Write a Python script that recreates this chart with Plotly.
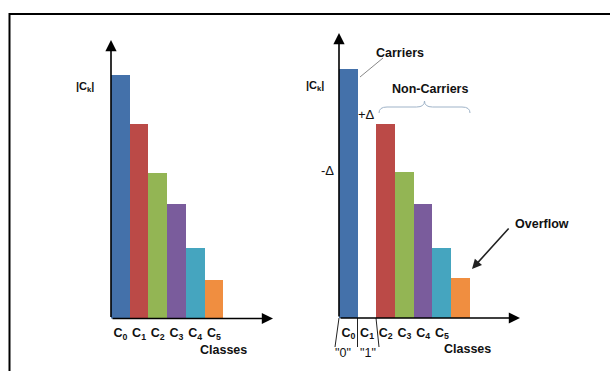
import plotly.graph_objects as go

# ---------------- data ----------------
left_classes = [0, 1, 2, 3, 4, 5]
left_values = [100, 80, 60, 47, 29, 16]
left_labels = ["C<sub>0</sub>", "C<sub>1</sub>", "C<sub>2</sub>", "C<sub>3</sub>", "C<sub>4</sub>", "C<sub>5</sub>"]
left_colors = ["#4471aa", "#bb4a47", "#93b554", "#7a5c9c", "#45a5bf", "#f08e40"]

right_classes = [0, 1, 2, 3, 4, 5, 6]
right_values = [102.5, 0, 80, 60, 47, 29, 16.5]
right_labels = ["C<sub>0</sub>", "C<sub>1</sub>", "C<sub>2</sub>", "C<sub>3</sub>", "C<sub>4</sub>", "C<sub>5</sub>"]
right_colors = ["#4471aa", "#ffffff", "#bb4a47", "#93b554", "#7a5c9c", "#45a5bf", "#f08e40"]

W, H = 610, 371
def px(x):
    return x / W
def py(y):
    return 1 - y / H

FONT = "Liberation Sans, Arial, sans-serif"

fig = go.Figure()
fig.add_trace(go.Bar(x=left_classes, y=left_values, width=1, marker=dict(color=left_colors, line=dict(width=0)),
                     xaxis="x", yaxis="y", showlegend=False, hoverinfo="skip"))
fig.add_trace(go.Bar(x=right_classes, y=right_values, width=1, marker=dict(color=right_colors, line=dict(width=0)),
                     xaxis="x2", yaxis="y2", showlegend=False, hoverinfo="skip"))

L_XMAX, L_YMAX = 8.16, 114.6
R_XMAX, R_YMAX = 9.18, 117.3

tickfont = dict(family=FONT, size=12.5, color="#111111")
axis_common = dict(showgrid=False, zeroline=False, showline=False, ticks="", fixedrange=True)

def bold_labels(labels):
    return [f"<b>{t}</b>" for t in labels]

fig.update_layout(
    width=W, height=H,
    margin=dict(l=0, r=0, t=0, b=0),
    paper_bgcolor="white", plot_bgcolor="rgba(0,0,0,0)",
    bargap=0,
    xaxis=dict(domain=[px(111), px(273)], range=[-0.5, L_XMAX], tickvals=left_classes, ticktext=bold_labels(left_labels),
               tickfont=tickfont, ticklabelstandoff=5, anchor="y", **axis_common),
    yaxis=dict(domain=[py(318.5), py(40)], range=[0, L_YMAX], showticklabels=False, anchor="x", **axis_common),
    xaxis2=dict(domain=[px(339), px(520)], range=[-0.5, R_XMAX], tickvals=right_classes[:6], ticktext=bold_labels(right_labels),
                tickfont=tickfont, ticklabelstandoff=5, anchor="y2", **axis_common),
    yaxis2=dict(domain=[py(318), py(33)], range=[0, R_YMAX], showticklabels=False, anchor="x2", **axis_common),
)

# axes with arrows
for xr, yr, xmax, ymax in [("x", "y", L_XMAX, L_YMAX), ("x2", "y2", R_XMAX, R_YMAX)]:
    for (x, y) in [(xmax, 0), (-0.5, ymax)]:
        fig.add_annotation(x=x, y=y, ax=-0.5, ay=0, xref=xr, yref=yr, axref=xr, ayref=yr,
                           text="", showarrow=True, arrowhead=2, arrowsize=1.4, arrowwidth=1.6, arrowcolor="black")

def text(x, y, t, size=12.5, bold=True, color="#111111"):
    fig.add_annotation(x=px(x), y=py(y), xref="paper", yref="paper", xanchor="center", yanchor="middle",
                       text=(f"<b>{t}</b>" if bold else t),
                       showarrow=False, font=dict(family=FONT, size=size, color=color))

# left chart texts
text(85, 87, "|C<sub>k</sub>|", size=11)
text(223, 350, "Classes")
# right chart texts
text(315, 86, "|C<sub>k</sub>|", size=11)
text(400, 53, "Carriers")
text(430, 89, "Non-Carriers")
text(366, 115, "+Δ", size=13, bold=False)
text(327, 170, "-Δ", size=13, bold=False)
text(542, 224, "Overflow")
text(467, 349, "Classes")
text(343, 353, "\"0\"", size=12.5, bold=False)
text(368, 353, "\"1\"", size=12.5, bold=False)

# carriers leader line
fig.add_shape(type="line", xref="paper", yref="paper", x0=px(360), y0=py(77), x1=px(383), y1=py(58),
              line=dict(color="#888888", width=1))
# overflow arrow
fig.add_annotation(x=px(472), y=py(269), xref="paper", yref="paper", ax=38, ay=-42, text="",
                   showarrow=True, arrowhead=2, arrowsize=1.2, arrowwidth=1.6, arrowcolor="#222222")
# brace over non-carriers
x0, x1, yb = px(379), px(470), py(107)
xm = (x0 + x1) / 2
d = 6 / H
fig.add_shape(type="path", xref="paper", yref="paper",
              path=f"M {x0} {yb - d} Q {x0} {yb} {x0 + 8/W} {yb} L {xm - 8/W} {yb} Q {xm} {yb} {xm} {yb + d} "
                   f"Q {xm} {yb} {xm + 8/W} {yb} L {x1 - 8/W} {yb} Q {x1} {yb} {x1} {yb - d}",
              line=dict(color="#9fb3c8", width=1))
# brackets under C0 / C1
for (a, b) in [((339, 318), (335, 347)), ((357.5, 318), (357.5, 347)), ((376, 318), (379, 347))]:
    fig.add_shape(type="line", xref="paper", yref="paper", x0=px(a[0]), y0=py(a[1]), x1=px(b[0]), y1=py(b[1]),
                  line=dict(color="#222222", width=1))

# frame
fig.add_shape(type="rect", xref="paper", yref="paper", x0=px(9.5), y0=-0.05, x1=1.05, y1=py(14),
              line=dict(color="black", width=2))

fig.write_html("out.html", config=dict(displayModeBar=False, staticPlot=True),
               post_script="document.body.style.margin='0';document.body.style.overflow='hidden';")
